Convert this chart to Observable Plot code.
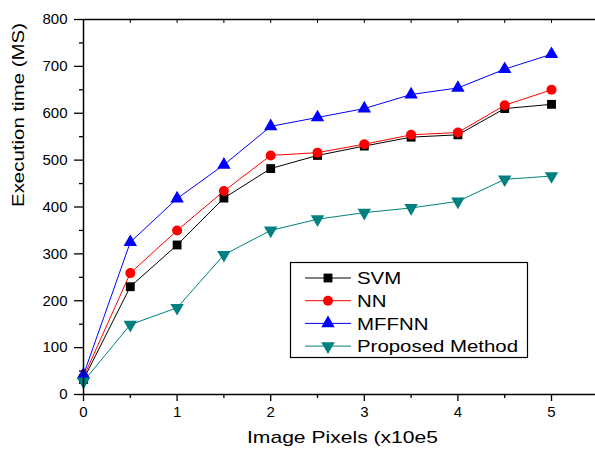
<!DOCTYPE html>
<html><head><meta charset="utf-8">
<script src="https://cdn.jsdelivr.net/npm/d3@7"></script>
<script src="https://cdn.jsdelivr.net/npm/@observablehq/plot@0.6"></script>
<style>body{margin:0;background:#fff} #chart{width:595px;height:453px}</style>
</head><body><div id="chart"></div>
<script>
const xValues = [0, 0.5, 1, 1.5, 2, 2.5, 3, 3.5, 4, 4.5, 5];
const svm      = [32, 230, 319, 419, 482, 510, 530, 549, 554, 610, 619];
const nn       = [37, 259, 350, 434, 510, 516, 534, 554, 559, 617, 650];
const mffnn    = [42, 325, 418, 490, 572, 591, 610, 640, 654, 694, 726];
const proposed = [28, 149, 185, 298, 350, 374, 388, 398, 412, 459, 466];

const seriesNames   = ["SVM", "NN", "MFFNN", "Proposed Method"];
const seriesColors  = ["#000000", "#ff0000", "#0000ff", "#008080"];
const seriesSymbols = ["square", "circle", "triangle", "triangle"];
const seriesRotate  = [0, 0, 0, 180];

const yTicks = [0, 100, 200, 300, 400, 500, 600, 700, 800];
const yMinorTicks = [50, 150, 250, 350, 450, 550, 650, 750];
const xTicks = [0, 1, 2, 3, 4, 5];
const xMinorTicks = [0.5, 1.5, 2.5, 3.5, 4.5];
const xTopTicks = [0.5, 1, 1.5, 2, 2.5, 3, 3.5, 4, 4.5, 5];
const xLabel = "Image Pixels (x10e5";
const yLabel = "Execution time (MS)";

const seriesValues = [svm, nn, mffnn, proposed];
const rows = seriesNames.flatMap((s, i) => xValues.map((x, j) => ({series: s, x, y: seriesValues[i][j], rot: seriesRotate[i]})));

const plot = Plot.plot({
  width: 595, height: 453,
  marginLeft: 83, marginRight: 0, marginTop: 19, marginBottom: 59,
  style: {fontFamily: "'Liberation Sans', Arial, sans-serif", fontSize: "15px", background: "white", color: "#000"},
  x: {domain: [0, 5.47]},
  y: {domain: [0, 800]},
  color: {domain: seriesNames, range: seriesColors},
  symbol: {domain: seriesNames, range: seriesSymbols},
  marks: [
    Plot.line(rows, {x: "x", y: "y", z: "series", stroke: "series", strokeWidth: 1}),
    Plot.dot(rows, {x: "x", y: "y", symbol: "series", fill: "series", r: 5, rotate: "rot"}),
    Plot.axisY({ticks: yTicks, tickSize: 9, tickPadding: 7, label: null, strokeWidth: 1.3}),
    Plot.axisY({ticks: yMinorTicks, tickSize: 4, text: null, label: null, strokeWidth: 1.3}),
    Plot.axisX({ticks: xTicks, tickSize: 7, tickPadding: 5, tickFormat: d3.format("d"), label: null, strokeWidth: 1.3}),
    Plot.axisX({ticks: xMinorTicks, tickSize: 4, text: null, label: null, strokeWidth: 1.3}),
    Plot.axisX({anchor: "top", ticks: xTopTicks, tickSize: 3, dy: 3, text: null, label: null, strokeWidth: 1}),
    Plot.ruleX([0], {strokeWidth: 1.5}),
    Plot.ruleY([0], {strokeWidth: 1.5}),
    Plot.ruleY([800], {strokeWidth: 1.5}),
    Plot.text([xLabel], {text: d => d, frameAnchor: "bottom", dx: 3, dy: 48, fontSize: 17}),
    Plot.text([yLabel], {text: d => d, frameAnchor: "left", dx: -65, rotate: -90, fontSize: 17})
  ]
});
document.getElementById("chart").appendChild(plot);

// legend
const svg = d3.select(plot);
const lg = svg.append("g").attr("font-family", "'Liberation Sans', Arial, sans-serif").attr("text-anchor", "start");
lg.append("rect").attr("x", 290.5).attr("y", 262.5).attr("width", 237).attr("height", 95)
  .attr("fill", "white").attr("stroke", "#000").attr("stroke-width", 1.2);
const symMap = {square: d3.symbolSquare, circle: d3.symbolCircle, triangle: d3.symbolTriangle};
seriesNames.forEach((s, i) => {
  const cy = 278 + i * 22.7;
  lg.append("line").attr("x1", 305).attr("x2", 351).attr("y1", cy).attr("y2", cy)
    .attr("stroke", seriesColors[i]).attr("stroke-width", 1);
  lg.append("path").attr("d", d3.symbol(symMap[seriesSymbols[i]], Math.PI * 25)())
    .attr("transform", `translate(328,${cy}) rotate(${seriesRotate[i]})`).attr("fill", seriesColors[i]);
  lg.append("text").attr("class", "lgtext").attr("x", 357).attr("y", cy).attr("dy", "0.36em")
    .attr("text-anchor", "start").attr("font-size", 17).attr("fill", "#000").text(s);
});

// horizontal stretch of texts like the reference
plot.querySelectorAll("text").forEach(t => {
  const c = t.textContent;
  if (c === xLabel) { t.setAttribute("textLength", 191); t.setAttribute("lengthAdjust", "spacingAndGlyphs"); }
  else if (c === yLabel) { t.setAttribute("textLength", 184); t.setAttribute("lengthAdjust", "spacingAndGlyphs"); }
  else if (t.classList.contains("lgtext")) {
    const len = t.getComputedTextLength();
    t.setAttribute("textLength", len * 1.2); t.setAttribute("lengthAdjust", "spacingAndGlyphs");
  }
});
</script>
</body></html>
